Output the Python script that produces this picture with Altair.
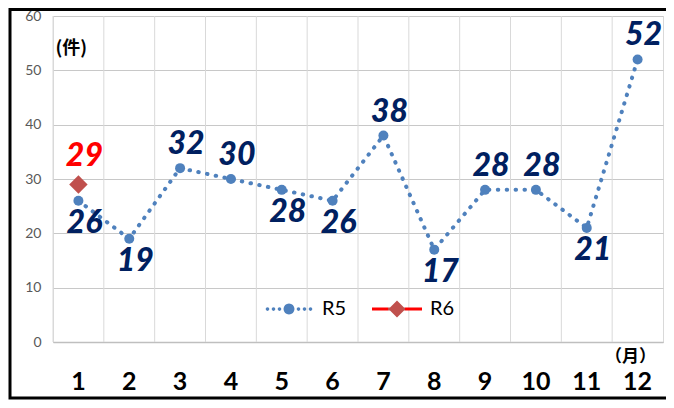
import math
import altair as alt
import pandas as pd

# ---- data ----
months = [1, 2, 3, 4, 5, 6, 7, 8, 9, 10, 11, 12]
r5_values = [26, 19, 32, 30, 28, 26, 38, 17, 28, 28, 21, 52]
r6_months = [1]
r6_values = [29]
# where each R5 value label sits relative to its point
r5_label_side = ["below", "below", "above", "above", "below", "below",
                 "above", "below", "above", "above", "below", "above"]

BLUE = "#4f81bd"
BROWN = "#c0504d"
RED = "#ff0000"
NAVY = "#002060"

r5_df = pd.DataFrame({"month": months, "value": r5_values, "series": "R5",
                      "side": r5_label_side})
r6_df = pd.DataFrame({"month": r6_months, "value": r6_values, "series": "R6"})
grid_df = pd.DataFrame({"month": months})


# ---- legend symbol paths (unit box -1..1): line + marker ----
def poly(cx, cy, r, n=16):
    pts = []
    for i in range(n):
        a = 2 * math.pi * i / n
        pts.append(f"{cx + r * math.cos(a):.3f},{cy + r * math.sin(a):.3f}")
    return "M" + " L".join(pts) + " Z"


r5_path = poly(0, 0, 0.22)
for x in (-0.86, -0.62, -0.38, 0.38, 0.62, 0.86):
    r5_path += " " + poly(x, 0, 0.075, 8)
r6_path = ("M-1,-0.06 L1,-0.06 L1,0.06 L-1,0.06 Z "
           "M-0.34,0 L0,-0.34 L0.34,0 L0,0.34 Z")
r6_legend_fill = alt.LinearGradient(
    gradient="linear", x1=0, y1=0, x2=1, y2=0,
    stops=[
        alt.GradientStop(offset=0, color=RED), alt.GradientStop(offset=0.33, color=RED),
        alt.GradientStop(offset=0.33, color=BROWN), alt.GradientStop(offset=0.67, color=BROWN),
        alt.GradientStop(offset=0.67, color=RED), alt.GradientStop(offset=1, color=RED),
    ],
)

x_scale = alt.Scale(paddingInner=0, paddingOuter=0)
x_axis = alt.Axis(
    labelAngle=0, ticks=False, labelPadding=27, labelFontSize=25,
    labelFontWeight="bold", labelColor="black", labelFont="Lato",
    domainColor="#bfbfbf", domainWidth=1.5, grid=False,
    titleX=577, titleY=14, titleAlign="center", titleBaseline="middle",
    titleFontSize=17, titleFontWeight="bold", titleColor="black",
    titleFont="Noto Sans CJK JP",
)
x_enc = alt.X("month:O", scale=x_scale, axis=x_axis, title="（月）")

y_scale = alt.Scale(domain=[0, 60], nice=False)
y_axis = alt.Axis(
    values=[0, 10, 20, 30, 40, 50, 60], ticks=False, domain=False,
    labelFontSize=14, labelColor="#595959", labelPadding=12, labelFont="Lato",
    gridColor="#c8c8c8", gridWidth=1.2,
    titleAngle=0, titleX=2, titleY=32, titleAlign="left",
    titleBaseline="middle", titleFontSize=18, titleFontWeight="bold",
    titleColor="black", titleFont="Noto Sans CJK JP",
)
y_enc = alt.Y("value:Q", scale=y_scale, axis=y_axis, title="(件)")


def legend_for(x_pos):
    return alt.Legend(
        orient="none", legendX=x_pos, legendY=268, direction="horizontal",
        title=None, labelFontSize=20, labelFont="Lato", labelColor="black",
        labelOffset=8, symbolSize=2500, symbolStrokeWidth=0, symbolOpacity=1,
    )


vgrid = alt.Chart(grid_df).mark_rule(color="#d9d9d9", strokeWidth=1).encode(
    x=alt.X("month:O", scale=x_scale, axis=x_axis, title="（月）", bandPosition=0)
)

line = alt.Chart(r5_df).mark_line(
    color=BLUE, strokeWidth=4, strokeDash=[0.5, 8.4], strokeCap="round"
).encode(x=x_enc, y=y_enc)

points_r5 = alt.Chart(r5_df).mark_point(
    filled=True, opacity=1, shape="circle", size=100, color=BLUE
).encode(x=x_enc, y=y_enc)

points_r6 = alt.Chart(r6_df).mark_point(
    filled=True, opacity=1, shape="diamond", size=340, color=BROWN
).encode(x=x_enc, y=y_enc)

# legend-only layers (their marks are filtered away; the legends remain)
legend_r5 = alt.Chart(r5_df).transform_filter("false").mark_point(
    filled=True, opacity=1, color=BLUE
).encode(shape=alt.Shape("series:N", scale=alt.Scale(domain=["R5"], range=[r5_path]),
                         legend=legend_for(211)))

legend_r6 = alt.Chart(r6_df).transform_filter("false").mark_point(
    filled=True, opacity=1, color=r6_legend_fill
).encode(shape=alt.Shape("series:N", scale=alt.Scale(domain=["R6"], range=[r6_path]),
                         legend=legend_for(319)))

text_style = dict(fontSize=32, fontWeight=900, fontStyle="italic", font="Lato",
                  baseline="middle", align="center", dx=6)

labels_above = alt.Chart(r5_df).transform_filter(
    alt.datum.side == "above"
).mark_text(dy=-24, color=NAVY, **text_style).encode(x=x_enc, y=y_enc, text="value:Q")

labels_below = alt.Chart(r5_df).transform_filter(
    alt.datum.side == "below"
).mark_text(dy=22, color=NAVY, **text_style).encode(x=x_enc, y=y_enc, text="value:Q")

labels_r6 = alt.Chart(r6_df).mark_text(
    dy=-28, color=RED, **text_style
).encode(x=x_enc, y=y_enc, text="value:Q")

frame = alt.Chart(pd.DataFrame({"a": [0]})).mark_rect(
    fill="transparent", stroke="black", strokeWidth=3, clip=False
).encode(x=alt.value(-43), x2=alt.value(700), y=alt.value(-6.5), y2=alt.value(382))

chart = alt.layer(
    vgrid, line, points_r5, points_r6, labels_above, labels_below, labels_r6,
    legend_r5, legend_r6, frame
).resolve_scale(shape="independent").properties(
    width=610, height=326,
    autosize=alt.AutoSizeParams(type="none"),
    padding={"left": 45, "top": 8, "right": 3, "bottom": 58},
    background="white",
).configure_view(stroke="#d9d9d9", strokeWidth=1)

chart.save("out.html", embed_options={"renderer": "svg", "actions": False})
